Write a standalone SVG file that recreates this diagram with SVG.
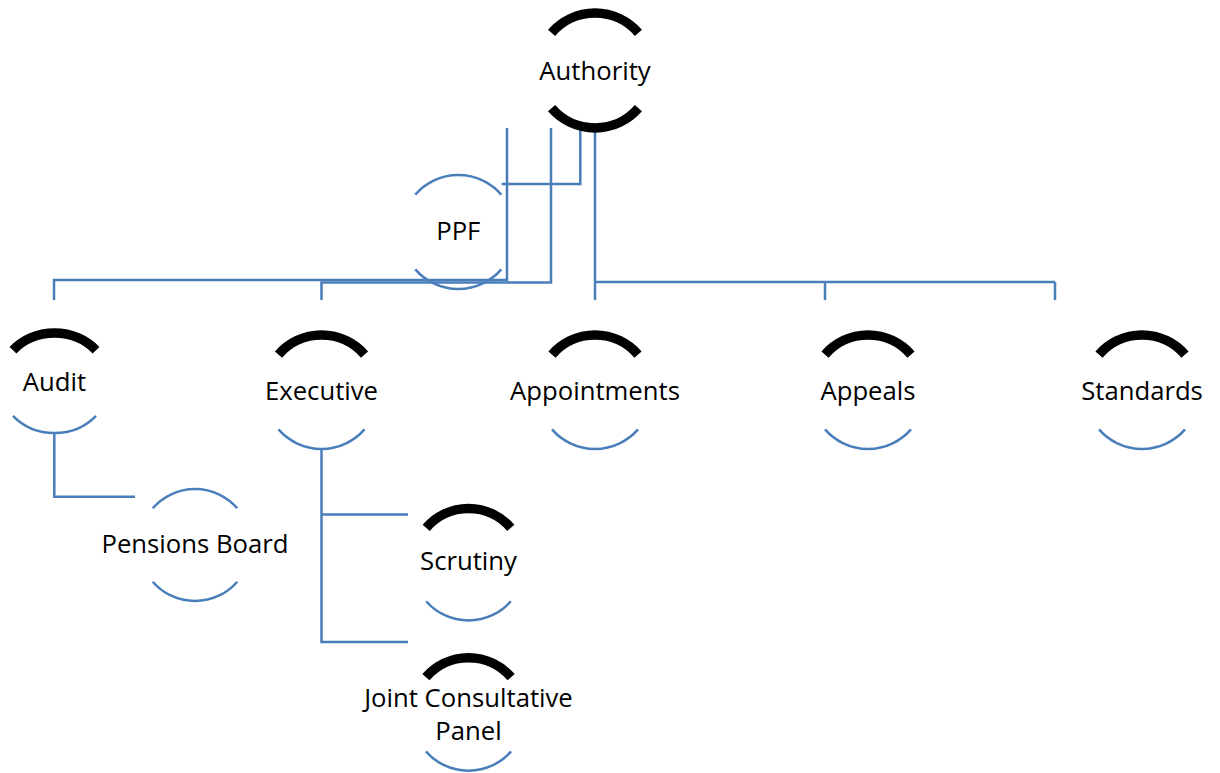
<svg xmlns="http://www.w3.org/2000/svg" width="1220" height="773" viewBox="0 0 1220 773">
<style>
.bk{fill:none;stroke:#000;stroke-width:9.5;stroke-linecap:butt}
.bl{fill:none;stroke:#4a7ebb;stroke-width:2.5}
.cn{fill:none;stroke:#4a7ebb;stroke-width:2.5}
text{font-family:"Open Sans","Liberation Sans",sans-serif;font-size:25.7px;fill:#000;text-anchor:middle}
</style>
<rect width="1220" height="773" fill="#fff"/>
<g id="connectors">
<path class="cn" d="M595,130 V300 M595,282 H1055 M825,282 V300 M1055,282 V300"/>
<path class="cn" d="M507,128 V280 H54 V300"/>
<path class="cn" d="M551,128 V282.5 H321.5 V300"/>
<path class="cn" d="M580.3,130 V184 H501.7"/>
<path class="cn" d="M54.3,433 V496.7 H135"/>
<path class="cn" d="M321.5,449 V642 H408 M321.5,514.5 H408"/>
</g>
<g id="authority">
<path class="bk" d="M551.6,32.8 A57.5,57.5 0 0 1 638.4,32.8"/>
<path class="bk" d="M551.6,108.2 A57.5,57.5 0 0 0 638.4,108.2"/>
<text x="595" y="80">Authority</text>
</g>
<g id="ppf">
<path class="bl" d="M415.3,194.6 A57,57 0 0 1 501.3,194.6"/>
<path class="bl" d="M415.3,269.4 A57,57 0 0 0 501.3,269.4"/>
<text x="458.3" y="240">PPF</text>
</g>
<g id="audit">
<path class="bk" d="M13,350.2 A55,50 0 0 1 96,350.2"/>
<path class="bl" d="M13,415.8 A55,50 0 0 0 96,415.8"/>
<text x="54.5" y="391">Audit</text>
</g>
<g id="executive">
<path class="bk" d="M278.5,354.6 A57,57 0 0 1 364.5,354.6"/>
<path class="bl" d="M278.5,429.4 A57,57 0 0 0 364.5,429.4"/>
<text x="321.5" y="400">Executive</text>
</g>
<g id="appointments">
<path class="bk" d="M552,354.6 A57,57 0 0 1 638,354.6"/>
<path class="bl" d="M552,429.4 A57,57 0 0 0 638,429.4"/>
<text x="595" y="400">Appointments</text>
</g>
<g id="appeals">
<path class="bk" d="M825,354.6 A57,57 0 0 1 911,354.6"/>
<path class="bl" d="M825,429.4 A57,57 0 0 0 911,429.4"/>
<text x="868" y="400">Appeals</text>
</g>
<g id="standards">
<path class="bk" d="M1099,354.6 A57,57 0 0 1 1185,354.6"/>
<path class="bl" d="M1099,429.4 A57,57 0 0 0 1185,429.4"/>
<text x="1142" y="400">Standards</text>
</g>
<g id="pensions-board">
<path class="bl" d="M152.7,508.3 A56,56 0 0 1 237.3,508.3"/>
<path class="bl" d="M152.7,581.7 A56,56 0 0 0 237.3,581.7"/>
<text x="195" y="553">Pensions Board</text>
</g>
<g id="scrutiny">
<path class="bk" d="M426.2,527.8 A56,56 0 0 1 510.8,527.8"/>
<path class="bl" d="M426.2,601.2 A56,56 0 0 0 510.8,601.2"/>
<text x="468.5" y="570">Scrutiny</text>
</g>
<g id="joint-consultative-panel">
<path class="bk" d="M425.9,677.2 A56.5,56.5 0 0 1 511.1,677.2"/>
<path class="bl" d="M425.9,751.4 A56.5,56.5 0 0 0 511.1,751.4"/>
<text x="468.5" y="707">Joint Consultative</text>
<text x="468.5" y="740">Panel</text>
</g>
</svg>
